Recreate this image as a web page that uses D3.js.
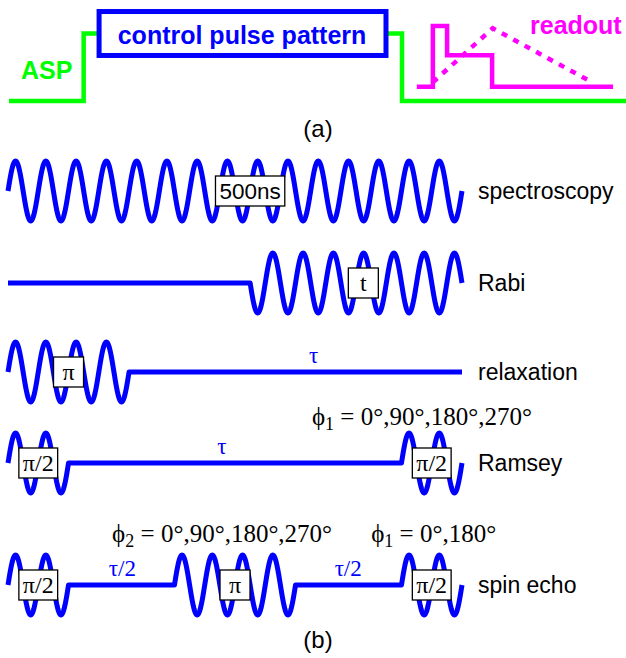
<!DOCTYPE html>
<html>
<head>
<meta charset="utf-8">
<script src="https://cdn.jsdelivr.net/npm/d3@7"></script>
<style>
  html, body { margin: 0; padding: 0; background: #fff; }
  svg { display: block; }
  .sans { font-family: Arial, "Liberation Sans", Helvetica, sans-serif; }
  .serif { font-family: "Times New Roman", "Liberation Serif", Times, serif; }
</style>
</head>
<body>
<svg id="chart" width="626" height="658"></svg>
<script>
// ---------- (a) measurement cycle: ASP bias, control window, readout ----------
const aspTimes   = [0, 12.1, 12.1, 14.6, 61.1, 63.7, 63.7, 100];
const aspLevels  = [0, 0, 9, 9, 9, 9, 0, 0];
const controlWindow = [14.6, 61.1];           // time span of the control box
const controlLevels = [6.07, 11.93];          // vertical span of the control box
const readoutTimes  = [66.1, 68.7, 68.7, 71, 71, 78.3, 78.3, 97.9];
const readoutLevels = [1.9, 1.9, 10, 10, 6.1, 6.1, 1.9, 1.9];
const responseTimes  = [68.7, 78.4, 94.5];
const responseLevels = [2.5, 9.7, 2.5];

// ---------- (b) pulse sequences (time in carrier cycles) ----------
const sequences   = ["spectroscopy", "Rabi", "relaxation", "Ramsey", "spin echo"];
const pulseRow    = [0, 1, 2, 3, 3, 4, 4, 4];
const pulseStart  = [0, 8, 0, 0, 13, 0, 5.5, 13];
const pulseCycles = [15, 7, 4, 2, 2, 2, 4, 2];
const pulseSign   = [1, -1, 1, 1, 1, 1, 1, 1];

const boxRow  = [0, 1, 2, 3, 3, 4, 4, 4];
const boxAt   = [8, 11.74, 2, 1, 14, 1, 7.5, 14];
const boxText = ["500ns", "t", "π", "π/2", "π/2", "π/2", "π", "π/2"];

const delayRow  = [2, 3, 4, 4];
const delayAt   = [10.1, 7.07, 3.78, 11.24];
const delayText = ["τ", "τ", "τ/2", "τ/2"];

const phaseRow  = [3, 4, 4];
const phaseAt   = [10.04, 3.44, 12.0];
const phaseSub  = ["1", "2", "1"];
const phaseText = [" = 0°,90°,180°,270°", " = 0°,90°,180°,270°", " = 0°,180°"];

const TOTAL = 15;

const svg = d3.select("#chart");

// ---- panel (a) ----
const xa = d3.scaleLinear().domain([0, 100]).range([9, 626]);
const ya = d3.scaleLinear().domain([0, 10]).range([101, 26]);
const lineA = d3.line().x(d => xa(d[0])).y(d => ya(d[1]));

svg.append("path")
  .attr("d", lineA(d3.zip(aspTimes, aspLevels)))
  .attr("fill", "none").attr("stroke", "#00ff00").attr("stroke-width", 4.5)
  .attr("stroke-linejoin", "miter");

svg.append("rect")
  .attr("x", xa(controlWindow[0])).attr("y", ya(controlLevels[1]))
  .attr("width", xa(controlWindow[1]) - xa(controlWindow[0]))
  .attr("height", ya(controlLevels[0]) - ya(controlLevels[1]))
  .attr("fill", "#fff").attr("stroke", "#0000ff").attr("stroke-width", 5);

svg.append("text").attr("class", "sans")
  .attr("x", (xa(controlWindow[0]) + xa(controlWindow[1])) / 2 - 0.5).attr("y", 44)
  .attr("text-anchor", "middle").attr("font-size", 25).attr("font-weight", "bold")
  .attr("fill", "#0000ff").text("control pulse pattern");

svg.append("text").attr("class", "sans")
  .attr("x", 21).attr("y", 79)
  .attr("font-size", 25).attr("font-weight", "bold")
  .attr("fill", "#00ff00").text("ASP");

svg.append("path")
  .attr("d", lineA(d3.zip(readoutTimes, readoutLevels)))
  .attr("fill", "none").attr("stroke", "#ff00ff").attr("stroke-width", 4.5);

svg.append("path")
  .attr("d", lineA(d3.zip(responseTimes, responseLevels)))
  .attr("fill", "none").attr("stroke", "#ff00ff").attr("stroke-width", 4.5)
  .attr("stroke-dasharray", "6,7");

svg.append("text").attr("class", "sans")
  .attr("x", 530).attr("y", 34)
  .attr("font-size", 25).attr("font-weight", "bold")
  .attr("fill", "#ff00ff").text("readout");

svg.append("text").attr("class", "sans")
  .attr("x", 318).attr("y", 137).attr("text-anchor", "middle")
  .attr("font-size", 24).attr("fill", "#000").text("(a)");

// ---- panel (b) ----
const x = d3.scaleLinear().domain([0, TOTAL]).range([8, 462]);
// baseline of each sequence row
const rowCenter = [191, 283, 372, 463, 585];
const AMP = 30;

sequences.forEach((name, r) => {
  const y = d3.scaleLinear().domain([-1, 1]).range([rowCenter[r] + AMP, rowCenter[r] - AMP]);
  const pulses = d3.range(pulseRow.length).filter(i => pulseRow[i] === r)
    .sort((a, b) => pulseStart[a] - pulseStart[b]);
  const pts = [];
  let t = 0;
  pulses.forEach(i => {
    const s = pulseStart[i], e = s + pulseCycles[i];
    if (s > t) { pts.push([t, 0], [s, 0]); }
    const n = Math.ceil(pulseCycles[i] * 48);
    for (let k = 0; k <= n; k++) {
      const tt = s + (e - s) * k / n;
      pts.push([tt, pulseSign[i] * Math.sin(2 * Math.PI * (tt - s))]);
    }
    t = e;
  });
  if (t < TOTAL) pts.push([t, 0], [TOTAL, 0]);

  svg.append("path")
    .attr("d", d3.line().x(d => x(d[0])).y(d => y(d[1]))(pts))
    .attr("fill", "none").attr("stroke", "#0000ff").attr("stroke-width", 5)
    .attr("stroke-linejoin", "round");

  svg.append("text").attr("class", "sans")
    .attr("x", 478).attr("y", rowCenter[r] + 8)
    .attr("font-size", 23).attr("fill", "#000").text(name);
});

// labelled boxes on the pulses
boxText.forEach((txt, i) => {
  const cy = rowCenter[boxRow[i]];
  const isSans = txt === "500ns";
  const g = svg.append("g");
  const label = g.append("text")
    .attr("class", isSans ? "sans" : "serif")
    .attr("x", x(boxAt[i])).attr("y", cy + 8)
    .attr("text-anchor", "middle")
    .attr("font-size", isSans ? 22.5 : 24)
    .attr("fill", "#000").text(txt);
  const bb = label.node().getBBox();
  const w = Math.max(bb.width + 8, 30);
  g.insert("rect", "text")
    .attr("x", x(boxAt[i]) - w / 2).attr("y", cy - 15)
    .attr("width", w).attr("height", 30)
    .attr("fill", "#fff").attr("stroke", "#000").attr("stroke-width", 1.3);
});

// free-evolution delays
delayText.forEach((txt, i) => {
  svg.append("text").attr("class", "serif")
    .attr("x", x(delayAt[i])).attr("y", rowCenter[delayRow[i]] - 9)
    .attr("text-anchor", "middle").attr("font-size", 23)
    .attr("fill", "#0000ff").text(txt);
});

// phase-cycling annotations
const phaseRise = [38, 43, 43];
phaseText.forEach((txt, i) => {
  const t = svg.append("text").attr("class", "serif")
    .attr("x", x(phaseAt[i])).attr("y", rowCenter[phaseRow[i]] - phaseRise[i])
    .attr("font-size", 25).attr("fill", "#000");
  t.append("tspan").text("ϕ");
  t.append("tspan").attr("dy", 5).attr("font-size", 18).text(phaseSub[i]);
  t.append("tspan").attr("dy", -5).text(txt);
});

svg.append("text").attr("class", "sans")
  .attr("x", 318).attr("y", 648).attr("text-anchor", "middle")
  .attr("font-size", 24).attr("fill", "#000").text("(b)");
</script>
</body>
</html>
